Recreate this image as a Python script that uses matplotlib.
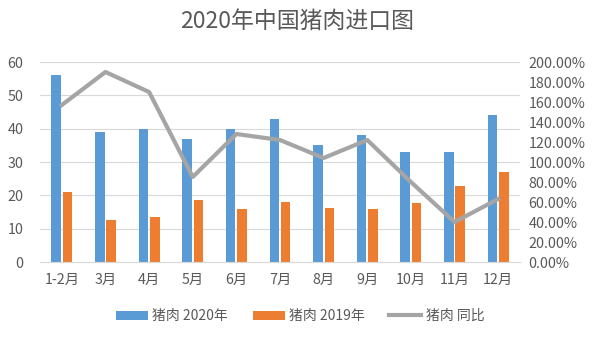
import numpy as np
import matplotlib.pyplot as plt
from matplotlib.ticker import FuncFormatter

plt.rcParams['font.family'] = ['Noto Sans CJK SC', 'DejaVu Sans']

# 月份和数据
months = ['1-2月', '3月', '4月', '5月', '6月', '7月', '8月', '9月', '10月', '11月', '12月']
pork_2020 = [56, 39, 40, 37, 40, 43, 35, 38, 33, 33, 44]
pork_2019 = [21, 12.7, 13.6, 18.7, 16, 18.1, 16.3, 16, 17.8, 22.9, 27]
yoy = [157, 190, 170, 85, 128, 122, 104, 122, 80, 40, 63]  # percent

text_col = '#595959'
x = np.arange(len(months))
w = 0.22

fig = plt.figure(figsize=(6, 3.41), dpi=100)
ax = fig.add_axes([40 / 600, 1 - 262 / 341, 480 / 600, 200 / 341])

ax.bar(x - w / 2 - 0.02, pork_2020, w, color='#5B9BD5', label='猪肉 2020年', zorder=2)
ax.bar(x + w / 2 + 0.02, pork_2019, w, color='#ED7D31', label='猪肉 2019年', zorder=2)
ax.set_xlim(-0.5, len(months) - 0.5)
ax.set_ylim(0, 60)
ax.set_yticks(range(0, 61, 10))
ax.grid(axis='y', color='#D9D9D9', linewidth=0.8, zorder=0)
ax.set_xticks(x)
ax.set_xticklabels(months)
for s in ['top', 'left', 'right']:
    ax.spines[s].set_visible(False)
ax.spines['bottom'].set_color('#D9D9D9')
ax.tick_params(length=0, colors=text_col, labelsize=10.3)
ax.tick_params(axis='x', pad=8)
ax.tick_params(axis='y', pad=12)

ax2 = ax.twinx()
ax2.plot(x, yoy, color='#A5A5A5', linewidth=3, label='猪肉 同比', zorder=3)
ax2.set_ylim(0, 200)
ax2.set_yticks(range(0, 201, 20))
ax2.yaxis.set_major_formatter(FuncFormatter(lambda v, p: f'{v:.2f}%'))
for s in ax2.spines.values():
    s.set_visible(False)
ax2.tick_params(length=0, colors=text_col, labelsize=10.3, pad=6)

fig.suptitle('2020年中国猪肉进口图', x=0.495, y=0.97, fontsize=16.5, color=text_col)

h1, l1 = ax.get_legend_handles_labels()
h2, l2 = ax2.get_legend_handles_labels()
fig.legend(h1 + h2, l1 + l2, loc='center', bbox_to_anchor=(0.5, 1 - 316 / 341), ncol=3,
           frameon=False, fontsize=10, labelcolor=text_col, handlelength=2.3,
           handleheight=0.6, columnspacing=1.8, handletextpad=0.3)

fig.savefig('out.png', dpi=100, facecolor='white')
